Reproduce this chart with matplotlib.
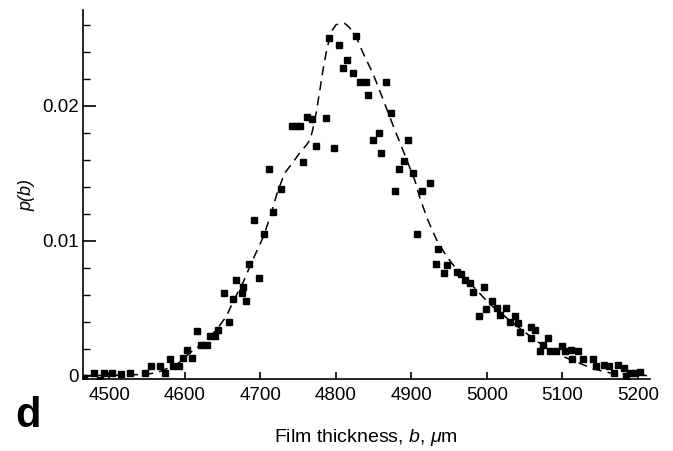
import matplotlib
matplotlib.use('Agg')
import matplotlib.pyplot as plt
from matplotlib.ticker import MultipleLocator

plt.rcParams['font.family'] = ['Liberation Sans', 'DejaVu Sans']
plt.rcParams['mathtext.fontset'] = 'custom'
plt.rcParams['mathtext.rm'] = 'Liberation Sans'
plt.rcParams['mathtext.it'] = 'Liberation Sans:italic'

# measured points: film thickness (um) and probability density
thick = [4467, 4479, 4487, 4493, 4504, 4516, 4527, 4547, 4555, 4567,
         4573, 4580, 4584, 4592, 4597, 4603, 4609, 4616, 4621, 4629,
         4633, 4640, 4644, 4652, 4658, 4664, 4668, 4676, 4677, 4681,
         4685, 4692, 4698, 4705, 4711, 4717, 4727, 4742, 4747, 4753,
         4757, 4762, 4769, 4774, 4787, 4791, 4797, 4804, 4809, 4815,
         4822, 4827, 4832, 4840, 4843, 4849, 4857, 4860, 4867, 4873,
         4878, 4883, 4890, 4895, 4902, 4907, 4914, 4925, 4932, 4935,
         4943, 4947, 4960, 4966, 4971, 4977, 4982, 4990, 4996, 4999,
         5007, 5014, 5018, 5025, 5030, 5037, 5041, 5044, 5058, 5059,
         5064, 5070, 5074, 5081, 5084, 5091, 5099, 5103, 5111, 5113,
         5120, 5127, 5140, 5144, 5155, 5162, 5169, 5173, 5181, 5184,
         5189, 5196, 5203]
prob = [-0.0002, 0.0002, -0.0003, 0.0002, 0.0002, 0.0001, 0.0002, 0.0002, 0.0007, 0.0007,
        0.0002, 0.0012, 0.0007, 0.0007, 0.0013, 0.0019, 0.0013, 0.0033, 0.0023, 0.0023,
        0.0029, 0.0029, 0.0034, 0.0061, 0.0040, 0.0057, 0.0071, 0.0061, 0.0066, 0.0055,
        0.0083, 0.0115, 0.0072, 0.0105, 0.0153, 0.0121, 0.0138, 0.0185, 0.0185, 0.0185,
        0.0158, 0.0192, 0.0190, 0.0170, 0.0191, 0.0250, 0.0169, 0.0245, 0.0228, 0.0234,
        0.0224, 0.0252, 0.0218, 0.0218, 0.0208, 0.0175, 0.0180, 0.0165, 0.0218, 0.0195,
        0.0137, 0.0153, 0.0159, 0.0175, 0.0150, 0.0105, 0.0137, 0.0143, 0.0083, 0.0094,
        0.0076, 0.0082, 0.0077, 0.0075, 0.0071, 0.0069, 0.0062, 0.0044, 0.0066, 0.0049,
        0.0055, 0.0050, 0.0045, 0.0050, 0.0040, 0.0044, 0.0039, 0.0032, 0.0036, 0.0028,
        0.0034, 0.0018, 0.0023, 0.0028, 0.0018, 0.0018, 0.0022, 0.0018, 0.0019, 0.0012,
        0.0018, 0.0012, 0.0012, 0.0007, 0.0008, 0.0007, 0.0002, 0.0008, 0.0006, 0.0000,
        0.0002, 0.0002, 0.0003]

# fitted curve (dashed)
fit_b = [4465, 4520, 4547, 4562, 4589, 4607, 4624, 4642, 4655, 4664,
         4677, 4690, 4704, 4713, 4722, 4732, 4743, 4752, 4761, 4766,
         4770, 4774, 4778, 4783, 4788, 4794, 4800, 4806, 4812, 4818,
         4827, 4836, 4849, 4863, 4876, 4891, 4905, 4911, 4922, 4933,
         4947, 4964, 4982, 4997, 5008, 5030, 5053, 5075, 5097, 5119,
         5141, 5163, 5185, 5212]
fit_p = [0.0, 0.00003, 0.0001, 0.0002, 0.0008, 0.0017, 0.0024, 0.0034, 0.0044, 0.0055,
         0.0069, 0.0086, 0.0103, 0.0118, 0.0135, 0.0150, 0.0158, 0.0165, 0.0171, 0.0175,
         0.0184, 0.0195, 0.0209, 0.0227, 0.0242, 0.0255, 0.0260, 0.0261, 0.0261, 0.0258,
         0.0251, 0.0239, 0.0224, 0.0204, 0.0185, 0.0164, 0.0144, 0.0132, 0.0115, 0.0101,
         0.0088, 0.0076, 0.0066, 0.0057, 0.0051, 0.0041, 0.0031, 0.0022, 0.0015, 0.0010,
         0.0005, 0.0002, 0.0001, 0.0]

xticks = [4500, 4600, 4700, 4800, 4900, 5000, 5100, 5200]
yticks = [0, 0.01, 0.02]
ylabels = ['0', '0.01', '0.02']

fig = plt.figure(figsize=(6.73, 4.51), dpi=100)
ax = fig.add_axes([0.1233, 0.1597, 0.8425, 0.8181])

ax.plot(fit_b, fit_p, color='black', lw=1.1, linestyle=(0, (6, 4)))
ax.plot(thick, prob, 's', color='black', markersize=4.2)

ax.set_xlim(4465, 5216)
ax.set_ylim(-0.00025, 0.0271)

ax.spines['top'].set_visible(False)
ax.spines['right'].set_visible(False)
ax.spines['left'].set_linewidth(1.2)
ax.spines['bottom'].set_linewidth(1.2)

ax.set_xticks(xticks)
ax.set_yticks(yticks)
ax.set_yticklabels(ylabels)
ax.yaxis.set_minor_locator(MultipleLocator(0.002))
ax.tick_params(axis='x', direction='in', length=5, width=1.2, pad=6, labelsize=13.5)
ax.tick_params(axis='y', which='major', direction='in', length=9, width=1.2, pad=3, labelsize=13.5)
ax.tick_params(axis='y', which='minor', direction='in', length=5, width=1.0)

fig.text(0.040, 0.567, 'p(b)', rotation=90, style='italic', fontsize=13,
         ha='center', va='center')
fig.text(0.544, 0.029, r'Film thickness, $\it{b}$, $\mu$m', fontsize=14,
         ha='center', va='center')
fig.text(0.022, 0.078, 'd', fontsize=30, fontweight='bold', ha='left', va='center')

fig.savefig('out.png', dpi=100)
